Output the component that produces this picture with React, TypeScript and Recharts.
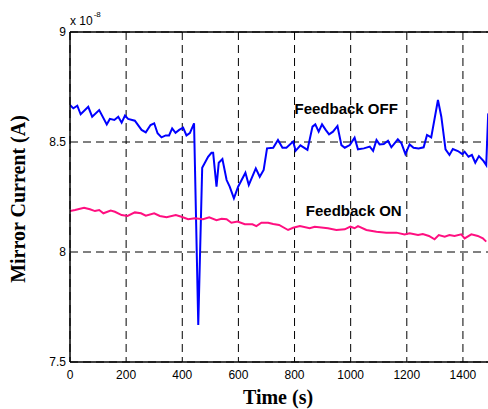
import {
  LineChart,
  Line,
  XAxis,
  YAxis,
  CartesianGrid,
  ReferenceLine,
  ReferenceDot,
  Label,
} from 'recharts'

// Feedback OFF (blue) — time in s, current in units of 1e-8 A
const offTime = [
  0, 12, 26, 38, 65, 79, 104, 131, 142, 158, 172, 184, 196, 207, 231, 255, 270, 287, 300, 312,
  326, 341, 353, 364, 376, 389, 403, 415, 427, 442, 457, 471, 492, 504, 510, 522, 530, 543, 558, 569,
  584, 599, 625, 637, 662, 676, 690, 702, 724, 741, 757, 771, 795, 804, 821, 846, 864, 874, 886, 898,
  911, 923, 937, 953, 967, 979, 997, 1014, 1026, 1047, 1068, 1080, 1092, 1103, 1118, 1133, 1145, 1168, 1181, 1195,
  1210, 1224, 1242, 1260, 1272, 1287, 1311, 1323, 1338, 1352, 1364, 1382, 1398, 1406, 1420, 1432, 1444, 1457, 1473, 1483,
  1490,
]
const offCurrent = [
  8.668, 8.653, 8.665, 8.626, 8.66, 8.615, 8.645, 8.58, 8.605, 8.6, 8.615, 8.588, 8.62, 8.605, 8.597, 8.555, 8.544, 8.577, 8.585, 8.54,
  8.521, 8.53, 8.53, 8.562, 8.542, 8.555, 8.565, 8.53, 8.54, 8.585, 7.668, 8.383, 8.433, 8.451, 8.451, 8.297, 8.406, 8.423, 8.327, 8.297,
  8.244, 8.297, 8.36, 8.305, 8.38, 8.342, 8.373, 8.471, 8.474, 8.509, 8.474, 8.474, 8.502, 8.46, 8.485, 8.464, 8.57, 8.58, 8.547, 8.58,
  8.555, 8.535, 8.547, 8.573, 8.486, 8.474, 8.486, 8.52, 8.467, 8.471, 8.479, 8.46, 8.509, 8.489, 8.491, 8.506, 8.476, 8.512, 8.494, 8.445,
  8.489, 8.474, 8.471, 8.476, 8.532, 8.521, 8.691, 8.615, 8.467, 8.441, 8.468, 8.459, 8.445, 8.456, 8.433, 8.441, 8.406, 8.436, 8.414, 8.395,
  8.63,
]

// Feedback ON (pink)
const onTime = [
  0, 18, 50, 71, 89, 104, 119, 145, 160, 184, 205, 231, 253, 270, 300, 320, 344, 377, 397, 421,
  445, 474, 496, 522, 540, 558, 575, 597, 623, 650, 664, 682, 706, 724, 745, 777, 795, 819, 854, 872,
  919, 949, 979, 999, 1014, 1026, 1056, 1092, 1127, 1163, 1192, 1210, 1240, 1257, 1279, 1299, 1314, 1335, 1352, 1370,
  1394, 1406, 1430, 1453, 1471, 1483,
]
const onCurrent = [
  8.186, 8.191, 8.201, 8.194, 8.186, 8.191, 8.176, 8.188, 8.183, 8.168, 8.164, 8.18, 8.176, 8.165, 8.176, 8.164, 8.158, 8.168, 8.16, 8.149,
  8.153, 8.149, 8.158, 8.145, 8.151, 8.149, 8.133, 8.138, 8.126, 8.126, 8.118, 8.133, 8.133, 8.127, 8.123, 8.1, 8.11, 8.118, 8.108, 8.115,
  8.108, 8.1, 8.103, 8.115, 8.108, 8.118, 8.1, 8.092, 8.088, 8.088, 8.08, 8.085, 8.077, 8.082, 8.073, 8.058, 8.077, 8.07, 8.077, 8.073,
  8.08, 8.062, 8.08, 8.073, 8.062, 8.047,
]

const xTicks = [0, 200, 400, 600, 800, 1000, 1200, 1400]
const yTicks = [7.5, 8, 8.5, 9]

const offData = offTime.map((t, i) => ({ t, v: offCurrent[i] }))
const onData = onTime.map((t, i) => ({ t, v: onCurrent[i] }))

const SANS = 'Arial, "Liberation Sans", sans-serif'
const SERIF = '"Times New Roman", "Liberation Serif", serif'

export default function App() {
  return (
    <div style={{ width: 488, height: 409, overflow: 'hidden', background: '#fff' }}>
      <style>{'body{margin:0;overflow:hidden}'}</style>
      <LineChart
        width={500}
        height={409}
        margin={{ top: 32, right: 9, bottom: 17, left: 0 }}
      >
        <CartesianGrid stroke="#000" strokeDasharray="8 5" strokeWidth={1} />
        <XAxis
          type="number"
          dataKey="t"
          domain={[0, 1500]}
          ticks={xTicks}
          allowDataOverflow
          height={30}
          axisLine={{ stroke: '#000', strokeWidth: 1.5 }}
          tickLine={false}
          tickSize={6}
          tickMargin={2}
          tick={{ fontSize: 12, fill: '#000', fontFamily: SANS }}
        >
          <Label
            content={() => (
              <text
                x={278}
                y={404}
                textAnchor="middle"
                fontFamily={SERIF}
                fontWeight="bold"
                fontSize={20}
                fill="#000"
              >
                Time (s)
              </text>
            )}
          />
        </XAxis>
        <YAxis
          type="number"
          domain={[7.5, 9]}
          ticks={yTicks}
          allowDataOverflow
          width={70}
          axisLine={{ stroke: '#000', strokeWidth: 1.5 }}
          tickLine={false}
          tickSize={2}
          tickMargin={2}
          tick={{ fontSize: 12, fill: '#000', fontFamily: SANS }}
        >
          <Label
            content={() => (
              <text
                x={18}
                y={199}
                transform="rotate(-90 18 199)"
                textAnchor="middle"
                dominantBaseline="central"
                fontFamily={SERIF}
                fontWeight="bold"
                fontSize={20}
                fill="#000"
              >
                Mirror Current (A)
              </text>
            )}
          />
          <Label
            content={() => (
              <text x={70} y={25} fontFamily={SANS} fontSize={12} fill="#000">
                x 10
                <tspan dx={1} dy={-8} fontSize={8}>
                  -8
                </tspan>
              </text>
            )}
          />
        </YAxis>
        <ReferenceLine y={9} stroke="#000" strokeWidth={1.5} />
        <ReferenceLine x={1500} stroke="#000" strokeWidth={1.5} />
        <Line
          data={offData}
          dataKey="v"
          type="linear"
          stroke="#0000ff"
          strokeWidth={2}
          dot={false}
          isAnimationActive={false}
        />
        <Line
          data={onData}
          dataKey="v"
          type="linear"
          stroke="#ff0f80"
          strokeWidth={2}
          dot={false}
          isAnimationActive={false}
        />
        <ReferenceDot
          x={984}
          y={8.65}
          r={1}
          fill="none"
          stroke="none"
          label={{
            value: 'Feedback OFF',
            position: 'center',
            fontSize: 15,
            fontWeight: 'bold',
            fontFamily: SANS,
            fill: '#000',
          }}
        />
        <ReferenceDot
          x={1011}
          y={8.19}
          r={1}
          fill="none"
          stroke="none"
          label={{
            value: 'Feedback ON',
            position: 'center',
            fontSize: 15,
            fontWeight: 'bold',
            fontFamily: SANS,
            fill: '#000',
          }}
        />
      </LineChart>
    </div>
  )
}
